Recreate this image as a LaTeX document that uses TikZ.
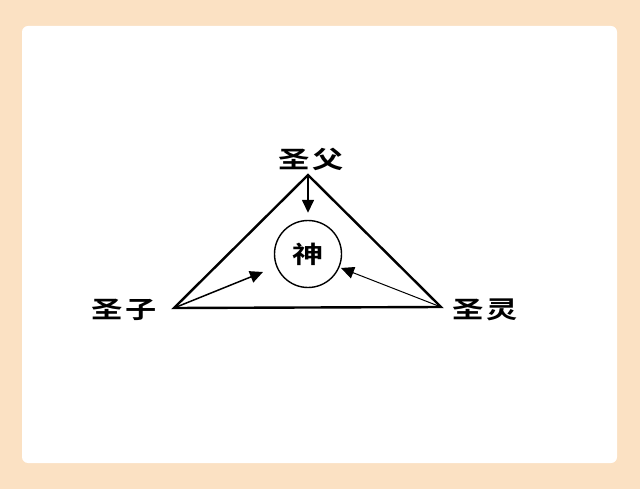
\documentclass[tikz,border=0pt]{standalone}
\usepackage{fontspec}
\newfontfamily\cjk{Noto Sans CJK SC Bold}
\usetikzlibrary{arrows.meta}
\definecolor{peach}{HTML}{FBE1C3}
\newcommand{\wide}[1]{\scalebox{1.3}[1]{#1}}
\tikzset{
  lbl/.style={font=\cjk\fontsize{24}{24}\selectfont, inner sep=0pt},
  edge/.style={line width=2.4pt, line join=miter},
  arr/.style={line width=1.5pt, -{Triangle[length=13pt,width=12pt]}},
  arrthin/.style={line width=1pt, -{Triangle[length=13pt,width=12pt]}}
}
\begin{document}
\begin{tikzpicture}[x=1pt,y=-1pt]
\useasboundingbox (0,0) rectangle (640,489);
\fill[peach] (0,0) rectangle (640,489);
\fill[white, rounded corners=6pt] (22,26) rectangle (617,463);
\coordinate (T) at (308,175);
\coordinate (L) at (174,308);
\coordinate (R) at (441,307);
\draw[edge] (L) -- (T) -- (R) -- cycle;
\node[circle, draw, line width=1.4pt, minimum size=67pt, inner sep=0pt, font=\cjk\fontsize{24}{24}\selectfont] (G) at (308,254) {\wide{神}};
\coordinate (tl) at (263,272);
\coordinate (tr) at (341,268);
\draw[arr] (T) -- ([yshift=7pt]G.north);
\draw[arr] (L) -- (tl);
\draw[arrthin] (R) -- (tr);
\node[lbl] (F) at (311,159) {\wide{圣}\hspace{3pt}\wide{父}};
\node[lbl] (S) at (124,310) {\wide{圣}\hspace{3pt}\wide{子}};
\node[lbl] (H) at (485,310) {\wide{圣}\hspace{3pt}\wide{灵}};
\end{tikzpicture}
\end{document}
